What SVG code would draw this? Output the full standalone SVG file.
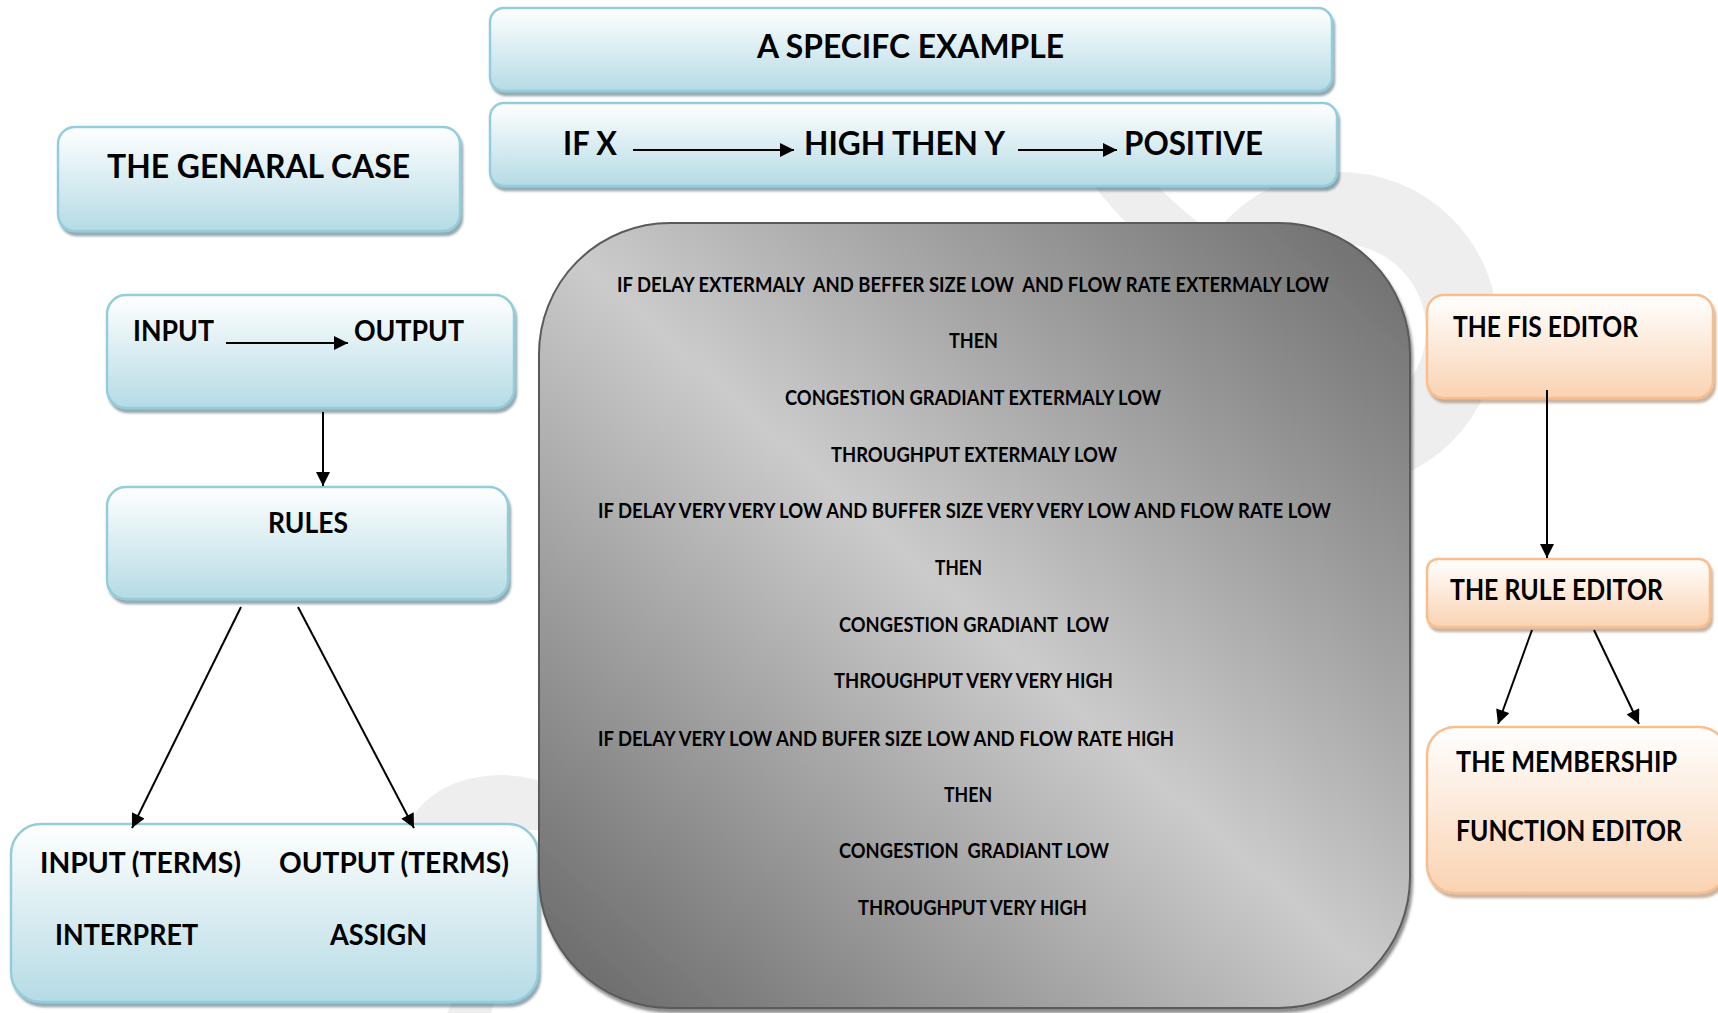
<svg xmlns="http://www.w3.org/2000/svg" width="1718" height="1013" viewBox="0 0 1718 1013">
<defs>
<style>
text { font-family: Lato, "Open Sans", "Liberation Sans", sans-serif; font-weight: 700; fill: #000; }
.t32 { font-size: 32px; }
.t29 { font-size: 29px; }
.t28 { font-size: 28px; }
.t20 { font-size: 20px; }
.blue { fill: url(#gBlue); stroke: #93cddd; stroke-width: 2.5; filter: url(#shB); }
.orange { fill: url(#gOr); stroke: #f9be8e; stroke-width: 2.5; filter: url(#shO); }
.gray { fill: url(#gGray); stroke: #5a5a5a; stroke-width: 2; filter: url(#shG); }
.con { stroke: #000; stroke-width: 2; fill: none; marker-end: url(#ah); }
.wm { fill: #eeeeee; }
.wms { fill: none; stroke: #eeeeee; }
</style>
<linearGradient id="gBlue" x1="0" y1="0" x2="0" y2="1">
<stop offset="0" stop-color="#ffffff"/>
<stop offset="1" stop-color="#b5dbe5"/>
</linearGradient>
<linearGradient id="gOr" x1="0" y1="0" x2="0" y2="1">
<stop offset="0" stop-color="#ffffff"/>
<stop offset="1" stop-color="#fad3b2"/>
</linearGradient>
<linearGradient id="gGray" x1="0" y1="1" x2="1" y2="0">
<stop offset="0" stop-color="#656565"/>
<stop offset="0.5" stop-color="#cbcbcb"/>
<stop offset="1" stop-color="#6a6a6a"/>
</linearGradient>
<filter id="shB" x="-5%" y="-10%" width="110%" height="125%">
<feDropShadow dx="2" dy="4" stdDeviation="1" flood-color="#3f6470" flood-opacity="0.55"/>
</filter>
<filter id="shO" x="-5%" y="-10%" width="110%" height="125%">
<feDropShadow dx="2" dy="4" stdDeviation="1" flood-color="#8a5a30" flood-opacity="0.45"/>
</filter>
<filter id="shG" x="-5%" y="-5%" width="110%" height="110%">
<feDropShadow dx="2" dy="4" stdDeviation="1.5" flood-color="#000" flood-opacity="0.45"/>
</filter>
<marker id="ah" viewBox="0 0 10 10" refX="10" refY="5" markerWidth="15" markerHeight="14" markerUnits="userSpaceOnUse" orient="auto">
<path d="M0,0 L10,5 L0,10 z" fill="#000"/>
</marker>
</defs>

<rect width="1718" height="1013" fill="#ffffff"/>

<g id="watermark">
<circle class="wms" cx="1340" cy="330" r="122" stroke-width="72"/>
<path class="wms" d="M1105,160 Q1140,210 1195,250" stroke-width="48"/>
<path class="wm" d="M406,830 C420,795 455,776 500,775 C515,775 530,778 545,782 L545,830 Z"/>
<path class="wm" d="M447,1013 L453,1000 L495,1000 L491,1013 Z"/>
</g>

<g id="node-specific-example">
<rect class="blue" x="490" y="8" width="842" height="83" rx="14"/>
<text class="t32" x="757" y="58" textLength="307" lengthAdjust="spacingAndGlyphs">A SPECIFC EXAMPLE</text>
</g>

<g id="node-if-x">
<rect class="blue" x="490" y="103" width="847" height="83" rx="14"/>
<text class="t32" x="563" y="155" textLength="54" lengthAdjust="spacingAndGlyphs">IF X</text>
<text class="t32" x="804" y="155" textLength="201" lengthAdjust="spacingAndGlyphs">HIGH THEN Y</text>
<text class="t32" x="1124" y="155" textLength="139" lengthAdjust="spacingAndGlyphs">POSITIVE</text>
</g>

<g id="node-general-case">
<rect class="blue" x="58" y="127" width="402" height="104" rx="17"/>
<text class="t32" x="107" y="178" textLength="303" lengthAdjust="spacingAndGlyphs">THE GENARAL CASE</text>
</g>

<g id="node-input-output">
<rect class="blue" x="107" y="295" width="407" height="113" rx="19"/>
<text class="t29" x="133" y="341" textLength="81" lengthAdjust="spacingAndGlyphs">INPUT</text>
<text class="t29" x="354" y="341" textLength="110" lengthAdjust="spacingAndGlyphs">OUTPUT</text>
</g>

<g id="node-rules">
<rect class="blue" x="107" y="487" width="401" height="112" rx="19"/>
<text class="t29" x="268" y="533" textLength="80" lengthAdjust="spacingAndGlyphs">RULES</text>
</g>

<g id="node-terms">
<rect class="blue" x="11" y="824" width="527" height="178" rx="30"/>
<text class="t28" x="40" y="873" textLength="201" lengthAdjust="spacingAndGlyphs">INPUT (TERMS)</text>
<text class="t28" x="279" y="873" textLength="230" lengthAdjust="spacingAndGlyphs">OUTPUT (TERMS)</text>
<text class="t28" x="55" y="945" textLength="143" lengthAdjust="spacingAndGlyphs">INTERPRET</text>
<text class="t28" x="330" y="945" textLength="97" lengthAdjust="spacingAndGlyphs">ASSIGN</text>
</g>

<g id="node-rule-list">
<rect class="gray" x="539" y="223" width="871" height="785" rx="131"/>
<text class="t20" xml:space="preserve" x="617" y="292" textLength="712" lengthAdjust="spacingAndGlyphs">IF DELAY EXTERMALY  AND BEFFER SIZE LOW  AND FLOW RATE EXTERMALY LOW</text>
<text class="t20" x="949" y="348" textLength="49" lengthAdjust="spacingAndGlyphs">THEN</text>
<text class="t20" x="785" y="405" textLength="376" lengthAdjust="spacingAndGlyphs">CONGESTION GRADIANT EXTERMALY LOW</text>
<text class="t20" x="831" y="462" textLength="286" lengthAdjust="spacingAndGlyphs">THROUGHPUT EXTERMALY LOW</text>
<text class="t20" x="598" y="518" textLength="733" lengthAdjust="spacingAndGlyphs">IF DELAY VERY VERY LOW AND BUFFER SIZE VERY VERY LOW AND FLOW RATE LOW</text>
<text class="t20" x="935" y="575" textLength="47" lengthAdjust="spacingAndGlyphs">THEN</text>
<text class="t20" xml:space="preserve" x="839" y="632" textLength="270" lengthAdjust="spacingAndGlyphs">CONGESTION GRADIANT  LOW</text>
<text class="t20" x="834" y="688" textLength="279" lengthAdjust="spacingAndGlyphs">THROUGHPUT VERY VERY HIGH</text>
<text class="t20" x="598" y="746" textLength="576" lengthAdjust="spacingAndGlyphs">IF DELAY VERY LOW AND BUFER SIZE LOW AND FLOW RATE HIGH</text>
<text class="t20" x="944" y="802" textLength="48" lengthAdjust="spacingAndGlyphs">THEN</text>
<text class="t20" xml:space="preserve" x="839" y="858" textLength="270" lengthAdjust="spacingAndGlyphs">CONGESTION  GRADIANT LOW</text>
<text class="t20" x="858" y="915" textLength="229" lengthAdjust="spacingAndGlyphs">THROUGHPUT VERY HIGH</text>
</g>

<g id="node-fis-editor">
<rect class="orange" x="1427" y="295" width="286" height="103" rx="17"/>
<text class="t28" x="1453" y="337" textLength="185" lengthAdjust="spacingAndGlyphs">THE FIS EDITOR</text>
</g>

<g id="node-rule-editor">
<rect class="orange" x="1427" y="559" width="283" height="68" rx="11"/>
<text class="t28" x="1450" y="600" textLength="213" lengthAdjust="spacingAndGlyphs">THE RULE EDITOR</text>
</g>

<g id="node-membership-editor">
<rect class="orange" x="1427" y="727" width="300" height="166" rx="28"/>
<text class="t28" x="1456" y="772" textLength="221" lengthAdjust="spacingAndGlyphs">THE MEMBERSHIP</text>
<text class="t28" x="1456" y="841" textLength="226" lengthAdjust="spacingAndGlyphs">FUNCTION EDITOR</text>
</g>

<g id="connectors">
<line class="con" x1="633" y1="150" x2="794" y2="150"/>
<line class="con" x1="1018" y1="150" x2="1117" y2="150"/>
<line class="con" x1="226" y1="343" x2="348" y2="343"/>
<line class="con" x1="323" y1="412" x2="323" y2="486"/>
<line class="con" x1="241" y1="607" x2="132" y2="828"/>
<line class="con" x1="298" y1="607" x2="414" y2="828"/>
<line class="con" x1="1547" y1="390" x2="1547" y2="558"/>
<line class="con" x1="1532" y1="630" x2="1498" y2="724"/>
<line class="con" x1="1594" y1="630" x2="1639" y2="724"/>
</g>
</svg>
